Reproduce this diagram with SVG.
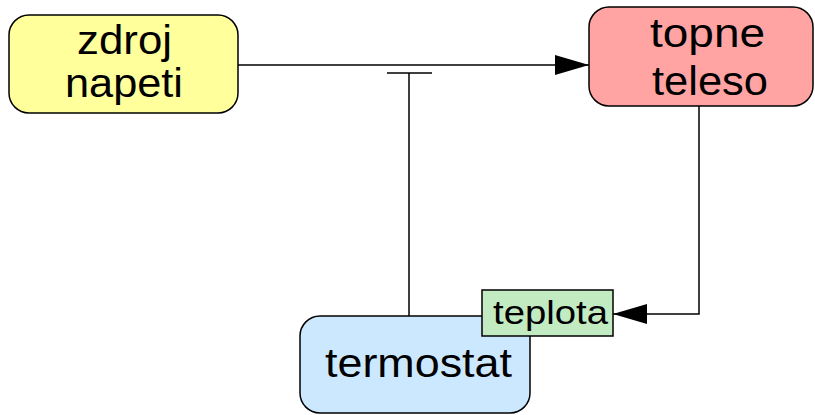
<svg xmlns="http://www.w3.org/2000/svg" width="815" height="415" viewBox="0 0 815 415">
<defs>
<style>
.n{stroke:#000;stroke-width:1.5}
.t{font-family:"Liberation Sans",Arial,sans-serif;fill:#000;text-anchor:middle;font-size:41px}
.s{font-size:34px}
.c{stroke:#000;stroke-width:1.5;fill:none}
</style>
<marker id="ah" viewBox="0 0 34 20" refX="34" refY="10" markerWidth="34" markerHeight="20" markerUnits="userSpaceOnUse" orient="auto">
<path d="M0,0 L34,10 L0,20 Z" fill="#000"/>
</marker>
</defs>
<g id="connectors">
<path class="c" d="M238,65 H589" marker-end="url(#ah)"/>
<path class="c" d="M409,316 V73 M387,73 H432"/>
<path class="c" d="M699,106 V314 H613" marker-end="url(#ah)"/>
</g>
<g id="zdroj">
<rect class="n" x="9" y="15" width="229" height="98" rx="20" fill="#ffff9c"/>
<text class="t" x="124.5" y="54" textLength="95" lengthAdjust="spacingAndGlyphs">zdroj</text>
<text class="t" x="124" y="97" textLength="118" lengthAdjust="spacingAndGlyphs">napeti</text>
</g>
<g id="topne">
<rect class="n" x="589" y="7" width="224" height="99" rx="20" fill="#ffa3a3"/>
<text class="t" x="707.5" y="47" textLength="115" lengthAdjust="spacingAndGlyphs">topne</text>
<text class="t" x="710" y="95" textLength="116" lengthAdjust="spacingAndGlyphs">teleso</text>
</g>
<g id="termostat">
<rect class="n" x="300" y="316" width="230" height="97" rx="20" fill="#cce8ff"/>
<text class="t" x="418.5" y="377" textLength="187" lengthAdjust="spacingAndGlyphs">termostat</text>
</g>
<g id="teplota">
<rect class="n" x="482" y="290" width="131" height="46" fill="#c2ebc2"/>
<text class="t s" x="550.5" y="324" textLength="115" lengthAdjust="spacingAndGlyphs">teplota</text>
</g>
</svg>
